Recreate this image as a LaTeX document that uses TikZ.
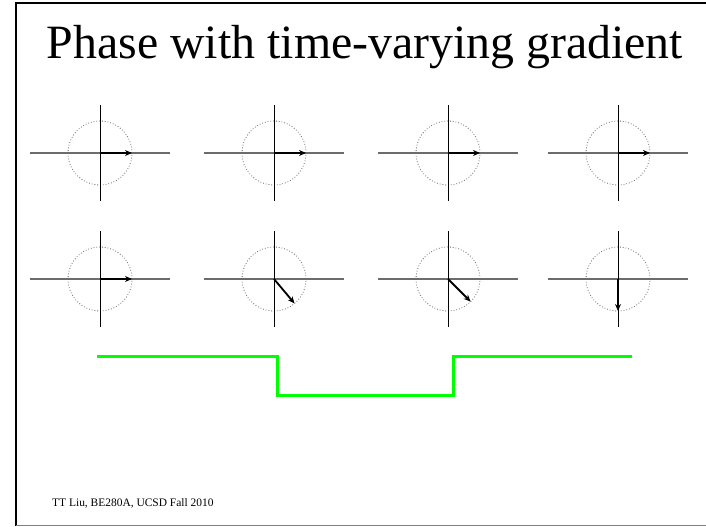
\documentclass[tikz,border=0pt]{standalone}
\usepackage{fontspec}
\setmainfont{Liberation Serif}
\usetikzlibrary{arrows.meta,calc,positioning}
\tikzset{
  >=stealth,
  realaxis/.style={draw=gray!85!black, line width=1.3bp},
  imagaxis/.style={draw=black, line width=0.9bp},
  unitcircle/.style={draw=gray!80!black, dotted, line width=0.8bp},
  phasor/.style={-{Stealth[length=7bp,width=6bp]}, line width=1.8bp},
  gradient/.style={draw=green, line width=3bp},
  frame/.style={line width=1.5bp}
}

\begin{document}
\begin{tikzpicture}[x=1bp,y=1bp]
\useasboundingbox (0,0) rectangle (706,527);

% Rahmen
\draw[frame] (706,524) -- (16,524) -- (16,1.2);
\draw[gray, line width=1.2bp] (16,1.2) -- (706,1.2);

% Titel
\node (title) at (365,480) {\fontsize{48}{54}\selectfont Phase with time-varying gradient};

% Zeiger
\foreach \col/\x/\a in {1/100/0,2/274/-50,3/448/-45,4/618/-90} {
  \foreach \row/\y/\ang in {1/374/0,2/248/\a} {
    \coordinate (p\row\col) at (\x,\y);
    \draw[unitcircle] (p\row\col) circle (32);
    \draw[realaxis] ($(p\row\col)+(-70,0)$) -- ($(p\row\col)+(70,0)$);
    \draw[imagaxis] ($(p\row\col)+(0,-48)$) -- ($(p\row\col)+(0,48)$);
    \draw[phasor] (p\row\col) -- ++(\ang:32);
  }
}

% Gradient
\coordinate (g0) at (97,170);
\coordinate (g1) at (277,170);
\coordinate (g2) at (277,131);
\coordinate (g3) at (453,131);
\coordinate (g4) at (453,170);
\coordinate (g5) at (632,170);
\draw[gradient] (g0) -- (g1) -- (g2) -- (g3) -- (g4) -- (g5);

% Fusszeile
\node[anchor=base west, inner sep=0pt] (foot) at (52,20) {\fontsize{11.5}{13}\selectfont TT Liu, BE280A, UCSD Fall 2010};

\end{tikzpicture}
\end{document}
